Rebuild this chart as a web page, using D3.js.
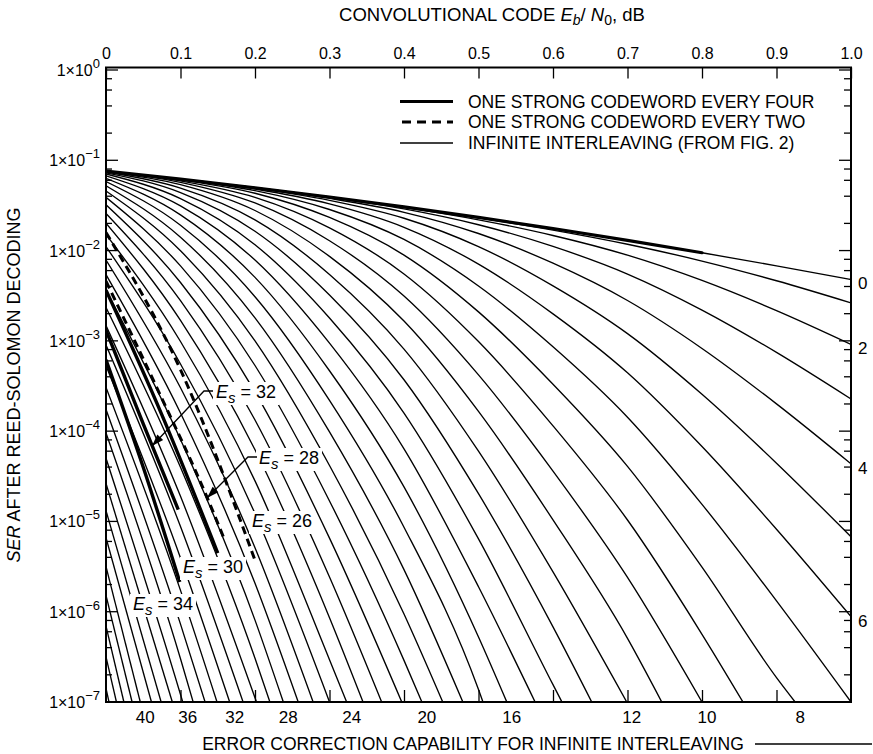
<!DOCTYPE html>
<html><head><meta charset="utf-8">
<script src="https://cdn.jsdelivr.net/npm/d3@7"></script>
<style>
body{margin:0;background:#fff;}
svg{display:block;font-family:"Liberation Sans",Arial,Helvetica,sans-serif;}
</style></head><body>
<svg id="chart" width="873" height="754"></svg>
<script>
// ---------------- DATA ----------------
// Eb/N0 grid (dB) at which the infinite-interleaving curves were read
const ebnoGrid = [0, 0.1, 0.2, 0.3, 0.4, 0.5, 0.6, 0.7, 0.8, 0.9, 1.0];
// error-correction capability T of each thin curve
const correctionT = d3.range(0, 45);
// log10(SER) of each curve at the grid points (until it leaves the plot)
const serLogByT = [
 [-1.12,-1.209,-1.304,-1.407,-1.516,-1.633,-1.756,-1.887,-2.024,-2.169,-2.32],
 [-1.12,-1.209,-1.304,-1.407,-1.517,-1.638,-1.773,-1.930,-2.116,-2.334,-2.579],
 [-1.12,-1.209,-1.304,-1.408,-1.522,-1.660,-1.833,-2.051,-2.331,-2.665,-3.039],
 [-1.12,-1.209,-1.304,-1.411,-1.539,-1.714,-1.954,-2.260,-2.659,-3.128,-3.644],
 [-1.12,-1.209,-1.305,-1.422,-1.576,-1.811,-2.140,-2.553,-3.084,-3.698,-4.362],
 [-1.12,-1.209,-1.309,-1.444,-1.642,-1.956,-2.391,-2.920,-3.592,-4.355,-5.170],
 [-1.12,-1.210,-1.318,-1.483,-1.742,-2.150,-2.701,-3.354,-4.171,-5.086,-6.054],
 [-1.12,-1.212,-1.336,-1.545,-1.877,-2.392,-3.066,-3.846,-4.811,-5.880,-7.0],
 [-1.12,-1.218,-1.365,-1.633,-2.050,-2.679,-3.481,-4.391,-5.506,-6.730],
 [-1.12,-1.228,-1.410,-1.748,-2.259,-3.008,-3.941,-4.984,-6.250],
 [-1.122,-1.244,-1.473,-1.891,-2.504,-3.377,-4.443,-5.620],
 [-1.125,-1.270,-1.556,-2.064,-2.781,-3.782,-4.983,-6.295],
 [-1.13,-1.308,-1.660,-2.264,-3.091,-4.222,-5.559],
 [-1.139,-1.358,-1.786,-2.492,-3.431,-4.693,-6.168],
 [-1.152,-1.424,-1.935,-2.747,-3.800,-5.194,-6.808],
 [-1.172,-1.505,-2.105,-3.026,-4.196,-5.724],
 [-1.199,-1.604,-2.297,-3.331,-4.618,-6.280],
 [-1.235,-1.719,-2.511,-3.659,-5.064,-6.862],
 [-1.282,-1.852,-2.745,-4.009,-5.534],
 [-1.34,-2.002,-3.000,-4.380,-6.026],
 [-1.41,-2.170,-3.273,-4.773,-6.539],
 [-1.493,-2.354,-3.566,-5.185],
 [-1.589,-2.555,-3.877,-5.616],
 [-1.697,-2.773,-4.206,-6.066],
 [-1.82,-3.007,-4.551,-6.532],
 [-1.955,-3.256,-4.913],
 [-2.104,-3.520,-5.292],
 [-2.266,-3.799,-5.685],
 [-2.44,-4.093,-6.093],
 [-2.63,-4.401,-6.516],
 [-2.83,-4.722],
 [-3.046,-5.057],
 [-3.274,-5.404],
 [-3.515,-5.764],
 [-3.76,-6.137],
 [-4.02,-6.521],
 [-4.30,-6.917],
 [-4.58],[-4.88],[-5.18],[-5.50],[-5.82],[-6.16],[-6.50],[-6.85]
];
// Eb/N0 (dB) where each curve reaches SER = 1e-7 (null: ends on right edge)
const crossEbNoByT = [null,null,null,null,null,null,null,null,
 0.925,0.855,0.800,0.746,0.699,0.652,0.612,0.576,0.538,0.506,0.479,0.452,
 0.424,0.397,0.370,0.345,0.323,0.300,0.278,0.258,0.238,0.220,0.202,0.184,
 0.166,0.149,0.133,0.117,0.103,0.089,0.074,0.061,0.046,0.035,0.024,0.014,0.004];
// range of Eb/N0 over which the low-T curves merge into one heavy line
const mergedUpToEbNo = 0.8;

// strong-codeword curves: [Eb/N0, log10 SER]
const everyFourEs = [30, 32, 34];
const everyFourPts = [
 [[0,-2.44],[0.075,-3.82],[0.150,-5.35]],
 [[0,-2.88],[0.05,-3.92],[0.097,-4.87]],
 [[0,-3.21],[0.05,-4.40],[0.099,-5.67]]
];
const everyTwoEs = [26, 28];
const everyTwoPts = [
 [[0,-1.80],[0.1,-3.32],[0.2,-5.43]],
 [[0,-2.34],[0.07,-3.55],[0.136,-4.74],[0.16,-5.22]]
];

const topTickValues = d3.range(0, 11).map(i => i / 10);
const decadeExponents = [0,-1,-2,-3,-4,-5,-6,-7];
const minorMultipliers = [2,4,6,8];
const bottomLabelT = [40,36,32,28,24,20,16,12,10,8];
const rightLabelT = [0,2,4,6];
const legendLabels = ["ONE STRONG CODEWORD EVERY FOUR","ONE STRONG CODEWORD EVERY TWO","INFINITE INTERLEAVING (FROM FIG. 2)"];

// ---------------- LAYOUT ----------------
const svg = d3.select("#chart");
const X0 = 106, X1 = 851, YTOP = 67.5, YB = 702;
const x = d3.scaleLinear().domain([0, 1]).range([X0, X1]);
const y = d3.scaleLog().domain([1e-7, 1]).range([YB, 70]);
const yl = v => y(Math.pow(10, v));

svg.append("defs").append("clipPath").attr("id","plot")
  .append("rect").attr("x",X0).attr("y",YTOP).attr("width",X1-X0).attr("height",YB-YTOP);

const line = d3.line().x(d => x(d[0])).y(d => yl(d[1])).curve(d3.curveMonotoneX);

const curves = svg.append("g").attr("clip-path","url(#plot)");
correctionT.forEach(t => {
  const pts = serLogByT[t].map((v,i) => [ebnoGrid[i], v]);
  if (crossEbNoByT[t] !== null) pts.push([crossEbNoByT[t], -7]);
  curves.append("path").attr("d", line(pts))
    .attr("fill","none").attr("stroke","#000").attr("stroke-width", 1.35);
});
// heavy merged portion of the top curve
const mergedPts = serLogByT[0].map((v,i) => [ebnoGrid[i], v]).filter(d => d[0] <= mergedUpToEbNo);
curves.append("path").attr("d", line(mergedPts)).attr("fill","none")
  .attr("stroke","#000").attr("stroke-width",3.2).attr("stroke-linecap","round");

everyTwoPts.forEach(pts => {
  curves.append("path").attr("d", line(pts)).attr("fill","none")
    .attr("stroke","#000").attr("stroke-width",3).attr("stroke-dasharray","8,5");
});
everyFourPts.forEach(pts => {
  curves.append("path").attr("d", line(pts)).attr("fill","none")
    .attr("stroke","#000").attr("stroke-width",3.4);
});

// frame
svg.append("rect").attr("x",X0).attr("y",YTOP).attr("width",X1-X0).attr("height",YB-YTOP)
  .attr("fill","none").attr("stroke","#000").attr("stroke-width",2);

// top axis
const topAxis = d3.axisTop(x).tickValues(topTickValues).tickSizeInner(-11).tickSizeOuter(0)
  .tickPadding(9).tickFormat(d => d === 0 ? "0" : d3.format(".1f")(d));
const gTop = svg.append("g").attr("transform",`translate(0,${YTOP})`).call(topAxis);
gTop.select(".domain").remove();
gTop.selectAll("line").attr("stroke-width",1.3);
gTop.selectAll("text").attr("font-size",16).attr("font-family","Liberation Sans, Arial, sans-serif").attr("fill","#000");

// bottom axis ticks (inside)
const botAxis = d3.axisBottom(x).tickValues(topTickValues.slice(1,10)).tickSizeInner(-12).tickSizeOuter(0).tickFormat("");
const gBot = svg.append("g").attr("transform",`translate(0,${YB})`).call(botAxis);
gBot.select(".domain").remove();
gBot.selectAll("line").attr("stroke-width",1.3);

// left / right log ticks
const ticksG = svg.append("g").attr("stroke","#000").attr("stroke-width",1.3);
decadeExponents.forEach(e => {
  const yy = yl(e);
  ticksG.append("line").attr("x1",X0).attr("x2",X0+12).attr("y1",yy).attr("y2",yy);
  ticksG.append("line").attr("x1",X1).attr("x2",X1-12).attr("y1",yy).attr("y2",yy);
  if (e > -7) minorMultipliers.forEach(m => {
    const ym = y(m * Math.pow(10, e-1));
    ticksG.append("line").attr("x1",X0).attr("x2",X0+6).attr("y1",ym).attr("y2",ym);
    ticksG.append("line").attr("x1",X1).attr("x2",X1-7).attr("y1",ym).attr("y2",ym);
  });
});

// left labels 1x10^n
decadeExponents.forEach(e => {
  const t = svg.append("text").attr("x",100).attr("y",yl(e)+6).attr("text-anchor","end")
    .attr("font-size",16);
  t.append("tspan").text("1×10");
  t.append("tspan").attr("dy",-8).attr("font-size",13).text(e === 0 ? "0" : "−" + (-e));
});

// right labels (T value of curve ending on right edge)
rightLabelT.forEach(t => {
  const v = serLogByT[t][serLogByT[t].length-1];
  svg.append("text").attr("x",858).attr("y",yl(v)+10).attr("font-size",17).text(t);
});

// bottom labels (T value of curve reaching 1e-7)
bottomLabelT.forEach(t => {
  svg.append("text").attr("x",x(crossEbNoByT[t])+5).attr("y",723).attr("text-anchor","middle")
    .attr("font-size",17).text(t);
});

// titles
const tt = svg.append("text").attr("x",492).attr("y",21).attr("text-anchor","middle").attr("font-size",18.5);
tt.append("tspan").text("CONVOLUTIONAL CODE ");
tt.append("tspan").attr("font-style","italic").text("E");
tt.append("tspan").attr("font-style","italic").attr("font-size",14).attr("dy",4).text("b");
tt.append("tspan").attr("dy",-4).text("/ ");
tt.append("tspan").attr("font-style","italic").text("N");
tt.append("tspan").attr("font-size",14).attr("dy",4).text("0");
tt.append("tspan").attr("dy",-4).text(", dB");

svg.append("text").attr("x",473).attr("y",750).attr("text-anchor","middle").attr("font-size",17.5)
  .text("ERROR CORRECTION CAPABILITY FOR INFINITE INTERLEAVING");
svg.append("line").attr("x1",755).attr("x2",872).attr("y1",744).attr("y2",744).attr("stroke","#000").attr("stroke-width",1.3);

const yt = svg.append("text").attr("transform","translate(20,385) rotate(-90)").attr("text-anchor","middle").attr("font-size",18);
yt.append("tspan").attr("font-style","italic").text("SER");
yt.append("tspan").text(" AFTER REED-SOLOMON DECODING");

// legend
const legY = [101.5, 122, 143];
legendLabels.forEach((lab,i) => {
  const l = svg.append("line").attr("x1",400).attr("x2",453).attr("y1",legY[i]).attr("y2",legY[i]).attr("stroke","#000");
  if (i===0) l.attr("stroke-width",3.2);
  if (i===1) l.attr("stroke-width",3.2).attr("stroke-dasharray","9,6").attr("x1",402);
  if (i===2) l.attr("stroke-width",1.3);
  svg.append("text").attr("x",468).attr("y",legY[i]+6).attr("font-size",17.5).text(lab);
});

// E_s annotations
function esLabel(xp, yp, es) {
  const w = 66;
  svg.append("rect").attr("x",xp-3).attr("y",yp-16).attr("width",w).attr("height",23).attr("fill","#fff");
  const t = svg.append("text").attr("x",xp).attr("y",yp).attr("font-size",18);
  t.append("tspan").attr("font-style","italic").text("E");
  t.append("tspan").attr("font-style","italic").attr("font-size",15).attr("dy",5).text("s");
  t.append("tspan").attr("dy",-5).text(" = " + es);
}
function leader(pts) {
  svg.append("path").attr("d", d3.line()(pts)).attr("fill","none").attr("stroke","#000").attr("stroke-width",1.3);
  const [p1, p0] = [pts[pts.length-1], pts[pts.length-2]];
  const ang = Math.atan2(p1[1]-p0[1], p1[0]-p0[0]);
  const L = 12, W = 4;
  const bx = p1[0] - L*Math.cos(ang), by = p1[1] - L*Math.sin(ang);
  svg.append("path").attr("d", `M${p1[0]},${p1[1]}L${bx - W*Math.sin(ang)},${by + W*Math.cos(ang)}L${bx + W*Math.sin(ang)},${by - W*Math.cos(ang)}Z`).attr("fill","#000");
}
esLabel(216, 398, everyFourEs[1]);
leader([[213,391],[204,391],[152,446]]);
esLabel(259, 464, everyTwoEs[1]);
leader([[257,457],[248,457],[207,498]]);
esLabel(252, 527, everyTwoEs[0]);
esLabel(183, 573, everyFourEs[0]);
esLabel(133, 610, everyFourEs[2]);
</script>
</body></html>
